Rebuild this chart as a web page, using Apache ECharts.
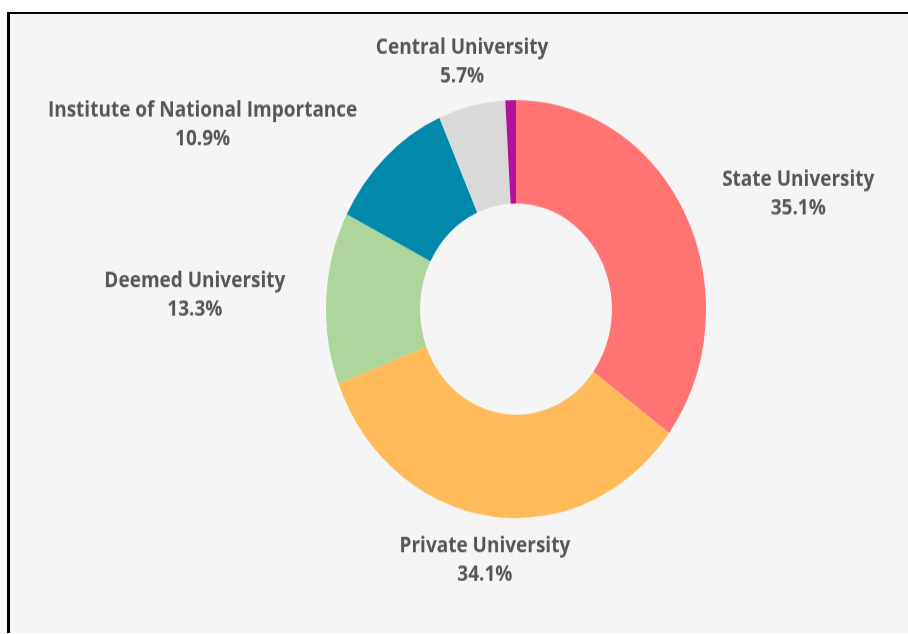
<!DOCTYPE html>
<html>
<head>
<meta charset="utf-8">
<title>University types</title>
<script src="https://cdn.jsdelivr.net/npm/echarts@6/dist/echarts.min.js"></script>
<style>
  html, body { margin: 0; padding: 0; background: #ffffff; }
  #frame {
    position: absolute; left: 7px; top: 12px; right: 0; height: 619px;
    background: #f5f5f5; border-top: 2px solid #000; border-left: 3px solid #000;
  }
  /* the source picture is a bit stretched vertically */
  #main {
    position: absolute; left: 0; top: 0; width: 908px; height: 576px;
    transform: scaleY(1.1); transform-origin: 0 0;
  }
</style>
</head>
<body>
<div id="frame"></div>
<div id="main"></div>
<script>
// share of universities by type (%)
var categories = ['State University', 'Private University', 'Deemed University',
  'Institute of National Importance', 'Central University', 'Institution under State Legislature Act'];
var shares = [35.1, 34.1, 13.3, 10.9, 5.7, 0.9];
var colors = ['#ff7373', '#ffbb5a', '#aed69c', '#0089ab', '#d9d9d9', '#b3109e'];
var hideLabel = [false, false, false, false, false, true];

var pieCenter = [516, 281];
var pieRadius = [96, 190];

var pieData = categories.map(function (name, i) {
  var item = { name: name, value: shares[i], itemStyle: { color: colors[i] } };
  if (hideLabel[i]) item.label = { show: false };
  return item;
});

var textStyle = { align: 'center', fontSize: 19, fontWeight: 'bold', lineHeight: 26,
  color: '#565656', fontFamily: '"Open Sans", sans-serif' };

var chart = echarts.init(document.getElementById('main'));
chart.setOption({
  backgroundColor: 'transparent',
  animation: false,
  series: [{
    type: 'pie',
    center: pieCenter,
    radius: pieRadius,
    startAngle: 90,
    clockwise: true,
    avoidLabelOverlap: false,
    data: pieData,
    itemStyle: { borderWidth: 0 },
    label: {
      position: 'outside',
      distanceToLabelLine: 0,
      formatter: '{n|{b}}\n{p|{c}%}',
      color: '#565656',
      fontFamily: '"Open Sans", sans-serif',
      fontWeight: 'bold',
      fontSize: 19,
      rich: { n: textStyle, p: textStyle }
    },
    labelLine: {
      show: true,
      length: 41,
      length2: 0,
      lineStyle: { opacity: 0 }
    },
    // labels above and below the ring sit centred on their ray
    labelLayout: function (p) {
      var r = p.labelRect;
      var cy = r.y + r.height / 2;
      if (Math.abs(cy - pieCenter[1]) > pieRadius[1]) {
        var onLeft = r.x + r.width / 2 < pieCenter[0];
        return { dx: onLeft ? r.width / 2 : -r.width / 2 };
      }
    },
    emphasis: { disabled: true }
  }]
});
</script>
</body>
</html>
